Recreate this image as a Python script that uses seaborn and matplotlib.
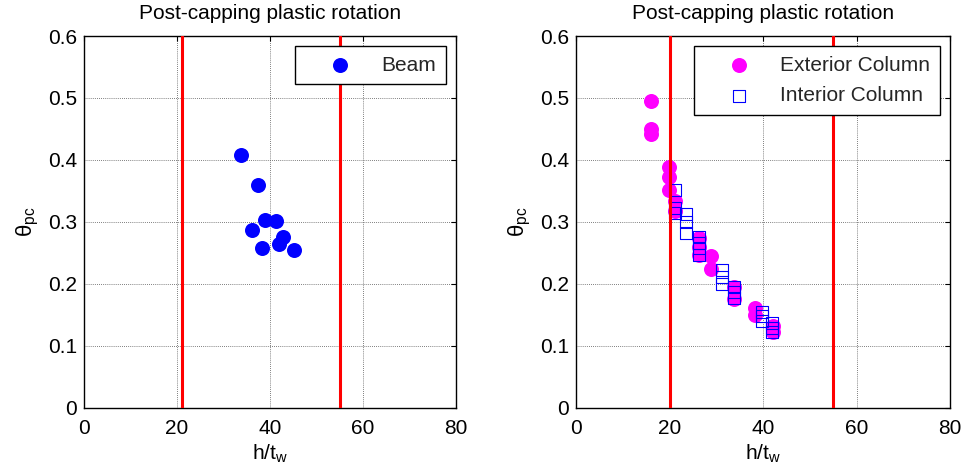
import matplotlib
matplotlib.use("Agg")
import matplotlib.pyplot as plt
import seaborn as sns
import numpy as np

# ---------------- data ----------------
beam_x = [33.7, 37.5, 38.9, 41.3, 36.2, 42.7, 41.9, 38.2, 45.1]
beam_y = [0.407, 0.359, 0.303, 0.302, 0.286, 0.276, 0.264, 0.258, 0.255]

ext_x = [16.0, 16.0, 16.0, 19.8, 19.8, 19.8, 21.2, 21.2, 26.3, 26.3, 26.3,
         28.8, 28.8, 33.9, 33.9, 38.3, 38.3, 42.1, 42.1]
ext_y = [0.495, 0.449, 0.441, 0.388, 0.372, 0.351, 0.334, 0.318, 0.274, 0.260,
         0.247, 0.244, 0.224, 0.194, 0.175, 0.160, 0.150, 0.131, 0.122]

int_x = [21.2, 21.2, 21.2, 23.5, 23.5, 23.5, 26.3, 26.3, 26.3, 26.3, 31.3,
         31.3, 31.3, 33.8, 33.8, 33.8, 39.8, 39.8, 39.8, 41.9, 41.9, 41.9]
int_y = [0.352, 0.322, 0.314, 0.313, 0.300, 0.282, 0.276, 0.265, 0.257, 0.247,
         0.222, 0.211, 0.200, 0.195, 0.186, 0.177, 0.155, 0.147, 0.139, 0.136,
         0.128, 0.122]

beam_limits = [21, 55]
column_limits = [20, 55]

x_ticks = [0, 20, 40, 60, 80]
y_ticks = [0, 0.1, 0.2, 0.3, 0.4, 0.5, 0.6]
x_ticklabels = ["0", "20", "40", "60", "80"]
y_ticklabels = ["0", "0.1", "0.2", "0.3", "0.4", "0.5", "0.6"]

title_text = "Post-capping plastic rotation"
xlabel_text = r"h/t$_{w}$"
ylabel_text = r"$θ_{pc}$"

# ---------------- style ----------------
sns.set_theme(style="white")
plt.rcParams["font.family"] = ["Liberation Sans", "DejaVu Sans"]
plt.rcParams["mathtext.fontset"] = "custom"
plt.rcParams["mathtext.rm"] = "Liberation Sans"
plt.rcParams["mathtext.it"] = "Liberation Sans"
plt.rcParams["mathtext.default"] = "regular"

FS = 15

fig = plt.figure(figsize=(9.66, 4.73), dpi=100)
W, H = 966, 473
bottom = 1 - 407.5 / H
height = (407.5 - 36) / H
ax1 = fig.add_axes([84 / W, bottom, 372 / W, height])
ax2 = fig.add_axes([576 / W, bottom, 374 / W, height])


def style_axes(ax):
    ax.set_xlim(0, 80)
    ax.set_ylim(0, 0.6)
    ax.set_xticks(x_ticks)
    ax.set_xticklabels(x_ticklabels)
    ax.set_yticks(y_ticks)
    ax.set_yticklabels(y_ticklabels)
    ax.grid(True, linestyle=(0, (1, 1.5)), color="#555555", linewidth=0.6)
    ax.set_axisbelow(True)
    for sp in ax.spines.values():
        sp.set_visible(True)
        sp.set_color("black")
        sp.set_linewidth(1.0)
    ax.tick_params(direction="in", top=True, right=True, length=3.5, width=0.8,
                   labelsize=FS, colors="black", pad=5)
    ax.tick_params(axis="x", pad=8)
    ax.set_title(title_text, fontsize=FS, pad=12, color="black")
    ax.set_xlabel(xlabel_text, fontsize=FS, labelpad=4, color="black")
    ax.set_ylabel(ylabel_text, fontsize=FS + 1, labelpad=5, color="black")


circle_s = (15 / 1.389) ** 2
square_s = (12 / 1.389) ** 2

# left panel
sns.scatterplot(x=beam_x, y=beam_y, ax=ax1, color="#0000FF", s=circle_s,
                marker="o", linewidth=0, label="Beam", zorder=3)
for v in beam_limits:
    ax1.axvline(v, color="#FF0000", linewidth=2.2, zorder=4)
style_axes(ax1)

# right panel
sns.scatterplot(x=ext_x, y=ext_y, ax=ax2, color="#FF00FF", s=circle_s,
                marker="o", linewidth=0, label="Exterior Column", zorder=3)
sns.scatterplot(x=int_x, y=int_y, ax=ax2, marker="s", s=square_s,
                facecolor="none", edgecolor="#0000FF", linewidth=0.8,
                label="Interior Column", zorder=3)
for v in column_limits:
    ax2.axvline(v, color="#FF0000", linewidth=2.2, zorder=4)
style_axes(ax2)

for ax in (ax1, ax2):
    leg = ax.legend(loc="upper right", fontsize=FS, frameon=True, fancybox=False,
                    framealpha=1, edgecolor="black", handlelength=3.4,
                    handletextpad=0.3, borderpad=0.45, labelspacing=0.55,
                    borderaxespad=0.5)
    leg.get_frame().set_linewidth(1.0)
    leg.set_zorder(10)

fig.savefig("out.png", dpi=100)
